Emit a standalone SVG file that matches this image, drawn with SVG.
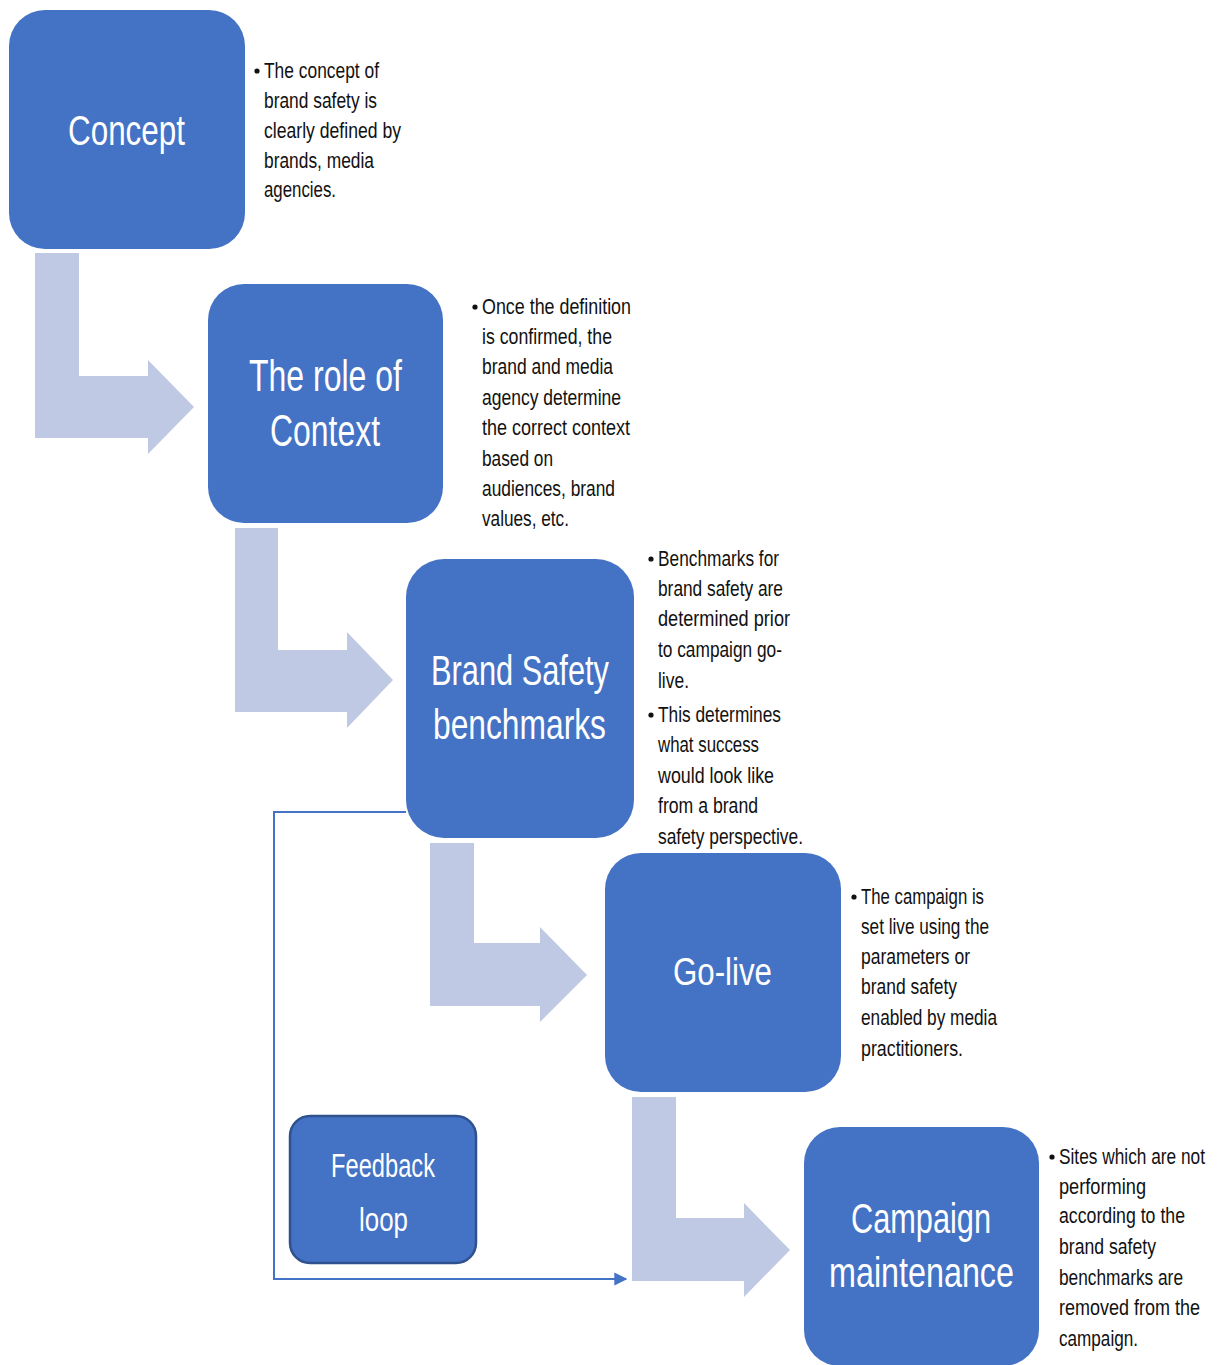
<svg xmlns="http://www.w3.org/2000/svg" width="1219" height="1365" viewBox="0 0 1219 1365">
  <defs>
    <style>
      .box { fill: #4472C4; }
      .fb { fill: #4472C4; stroke: #2F528F; stroke-width: 2.5; }
      .bend { fill: #BFC9E3; }
      .title { font-family: "Liberation Sans", Arial, sans-serif; fill: #FFFFFF; text-anchor: start; }
      .note { font-family: "Liberation Sans", Arial, sans-serif; font-size: 22.5px; fill: #111111; }
      .dot { fill: #111111; }
      .loop { fill: none; stroke: #4472C4; stroke-width: 2; }
    </style>
    <marker id="tip" viewBox="0 0 10 10" refX="9" refY="5" markerWidth="13" markerHeight="19" markerUnits="userSpaceOnUse" orient="auto">
      <path d="M0,0 L10,5 L0,10 z" fill="#4472C4"/>
    </marker>
  </defs>

  <rect width="1219" height="1365" fill="#FFFFFF"/>

  <!-- connectors: bent block arrows and the feedback line -->
  <g id="connectors">
    <path class="bend" d="M35,253 H79 V376 H148 V360 L194,407 L148,454 V438 H35 Z"/>
    <path class="bend" d="M235,528 H278 V650 H347 V632 L393,680 L347,728 V712 H235 Z"/>
    <path class="bend" d="M430,843 H474 V943 H540 V927 L587,975 L540,1022 V1006 H430 Z"/>
    <path class="bend" d="M632,1097 H676 V1218 H744 V1203 L790,1250 L744,1297 V1281 H632 Z"/>
    <polyline class="loop" points="406,812 274,812 274,1279 626,1279" marker-end="url(#tip)"/>
  </g>

  <g id="concept">
    <rect class="box" x="9" y="10" width="236" height="239" rx="36"/>
    <text class="title" x="68" y="145" font-size="42" textLength="117" lengthAdjust="spacingAndGlyphs">Concept</text>
  </g>
  <g id="concept-note">
    <circle class="dot" cx="257" cy="71" r="2.6"/>
    <text class="note" x="264" y="78" textLength="115" lengthAdjust="spacingAndGlyphs">The concept of</text>
    <text class="note" x="264" y="108" textLength="113" lengthAdjust="spacingAndGlyphs">brand safety is</text>
    <text class="note" x="264" y="138" textLength="137" lengthAdjust="spacingAndGlyphs">clearly defined by</text>
    <text class="note" x="264" y="168" textLength="110" lengthAdjust="spacingAndGlyphs">brands, media</text>
    <text class="note" x="264" y="197" textLength="72" lengthAdjust="spacingAndGlyphs">agencies.</text>
  </g>

  <g id="context">
    <rect class="box" x="208" y="284" width="235" height="239" rx="36"/>
    <text class="title" x="249" y="391" font-size="45" textLength="153" lengthAdjust="spacingAndGlyphs">The role of</text>
    <text class="title" x="270" y="446" font-size="45" textLength="110" lengthAdjust="spacingAndGlyphs">Context</text>
  </g>
  <g id="context-note">
    <circle class="dot" cx="475" cy="307" r="2.6"/>
    <text class="note" x="482" y="314" textLength="149" lengthAdjust="spacingAndGlyphs">Once the definition</text>
    <text class="note" x="482" y="344" textLength="130" lengthAdjust="spacingAndGlyphs">is confirmed, the</text>
    <text class="note" x="482" y="374" textLength="131" lengthAdjust="spacingAndGlyphs">brand and media</text>
    <text class="note" x="482" y="405" textLength="139" lengthAdjust="spacingAndGlyphs">agency determine</text>
    <text class="note" x="482" y="435" textLength="148" lengthAdjust="spacingAndGlyphs">the correct context</text>
    <text class="note" x="482" y="466" textLength="71" lengthAdjust="spacingAndGlyphs">based on</text>
    <text class="note" x="482" y="496" textLength="133" lengthAdjust="spacingAndGlyphs">audiences, brand</text>
    <text class="note" x="482" y="526" textLength="87" lengthAdjust="spacingAndGlyphs">values, etc.</text>
  </g>

  <g id="benchmarks">
    <rect class="box" x="406" y="559" width="228" height="279" rx="38"/>
    <text class="title" x="431" y="685" font-size="43" textLength="178" lengthAdjust="spacingAndGlyphs">Brand Safety</text>
    <text class="title" x="433" y="739" font-size="43" textLength="173" lengthAdjust="spacingAndGlyphs">benchmarks</text>
  </g>
  <g id="benchmarks-note">
    <circle class="dot" cx="651" cy="559" r="2.6"/>
    <text class="note" x="658" y="566" textLength="121" lengthAdjust="spacingAndGlyphs">Benchmarks for</text>
    <text class="note" x="658" y="596" textLength="125" lengthAdjust="spacingAndGlyphs">brand safety are</text>
    <text class="note" x="658" y="626" textLength="132" lengthAdjust="spacingAndGlyphs">determined prior</text>
    <text class="note" x="658" y="657" textLength="124" lengthAdjust="spacingAndGlyphs">to campaign go-</text>
    <text class="note" x="658" y="688" textLength="31" lengthAdjust="spacingAndGlyphs">live.</text>
    <circle class="dot" cx="651" cy="715" r="2.6"/>
    <text class="note" x="658" y="722" textLength="123" lengthAdjust="spacingAndGlyphs">This determines</text>
    <text class="note" x="658" y="752" textLength="101" lengthAdjust="spacingAndGlyphs">what success</text>
    <text class="note" x="658" y="783" textLength="116" lengthAdjust="spacingAndGlyphs">would look like</text>
    <text class="note" x="658" y="813" textLength="100" lengthAdjust="spacingAndGlyphs">from a brand</text>
    <text class="note" x="658" y="844" textLength="145" lengthAdjust="spacingAndGlyphs">safety perspective.</text>
  </g>

  <g id="go-live">
    <rect class="box" x="605" y="853" width="236" height="239" rx="36"/>
    <text class="title" x="673" y="985" font-size="39" textLength="99" lengthAdjust="spacingAndGlyphs">Go-live</text>
  </g>
  <g id="go-live-note">
    <circle class="dot" cx="854" cy="897" r="2.6"/>
    <text class="note" x="861" y="904" textLength="123" lengthAdjust="spacingAndGlyphs">The campaign is</text>
    <text class="note" x="861" y="934" textLength="128" lengthAdjust="spacingAndGlyphs">set live using the</text>
    <text class="note" x="861" y="964" textLength="109" lengthAdjust="spacingAndGlyphs">parameters or</text>
    <text class="note" x="861" y="994" textLength="96" lengthAdjust="spacingAndGlyphs">brand safety</text>
    <text class="note" x="861" y="1025" textLength="136" lengthAdjust="spacingAndGlyphs">enabled by media</text>
    <text class="note" x="861" y="1056" textLength="102" lengthAdjust="spacingAndGlyphs">practitioners.</text>
  </g>

  <g id="feedback-loop">
    <rect class="fb" x="290" y="1116" width="186" height="147" rx="20"/>
    <text class="title" x="331" y="1177" font-size="33" textLength="104" lengthAdjust="spacingAndGlyphs">Feedback</text>
    <text class="title" x="359" y="1231" font-size="33" textLength="49" lengthAdjust="spacingAndGlyphs">loop</text>
  </g>

  <g id="maintenance">
    <rect class="box" x="804" y="1127" width="235" height="239" rx="36"/>
    <text class="title" x="851" y="1233" font-size="42" textLength="140" lengthAdjust="spacingAndGlyphs">Campaign</text>
    <text class="title" x="829" y="1287" font-size="42" textLength="185" lengthAdjust="spacingAndGlyphs">maintenance</text>
  </g>
  <g id="maintenance-note">
    <circle class="dot" cx="1052" cy="1157" r="2.6"/>
    <text class="note" x="1059" y="1164" textLength="146" lengthAdjust="spacingAndGlyphs">Sites which are not</text>
    <text class="note" x="1059" y="1194" textLength="87" lengthAdjust="spacingAndGlyphs">performing</text>
    <text class="note" x="1059" y="1223" textLength="126" lengthAdjust="spacingAndGlyphs">according to the</text>
    <text class="note" x="1059" y="1254" textLength="97" lengthAdjust="spacingAndGlyphs">brand safety</text>
    <text class="note" x="1059" y="1285" textLength="124" lengthAdjust="spacingAndGlyphs">benchmarks are</text>
    <text class="note" x="1059" y="1315" textLength="141" lengthAdjust="spacingAndGlyphs">removed from the</text>
    <text class="note" x="1059" y="1346" textLength="79" lengthAdjust="spacingAndGlyphs">campaign.</text>
  </g>
</svg>
